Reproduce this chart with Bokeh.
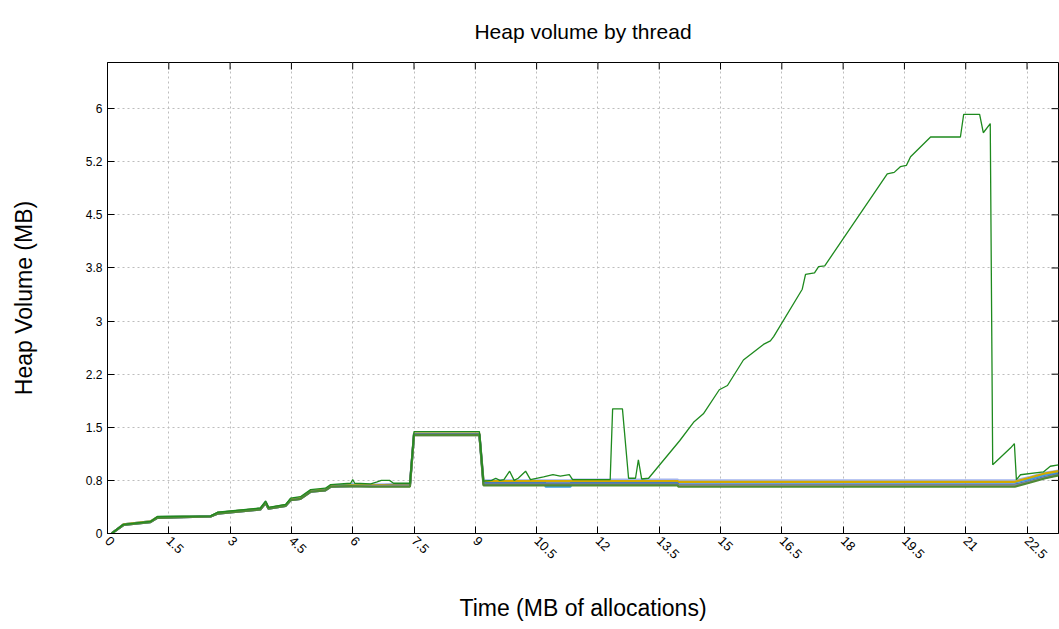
import math
from bokeh.plotting import figure
from bokeh.models import Range1d, FixedTicker
from bokeh.embed import file_html
from bokeh.resources import INLINE

# ---- data ----
X_TICKS = [0, 1.5, 3, 4.5, 6, 7.5, 9, 10.5, 12, 13.5, 15, 16.5, 18, 19.5, 21, 22.5]
X_LABELS = ["0", "1.5", "3", "4.5", "6", "7.5", "9", "10.5", "12", "13.5", "15",
            "16.5", "18", "19.5", "21", "22.5"]
Y_TICKS = [0, 0.75, 1.5, 2.25, 3, 3.75, 4.5, 5.25, 6]
Y_LABELS = ["0", "0.8", "1.5", "2.2", "3", "3.8", "4.5", "5.2", "6"]
X_MAX = 23.27
Y_MAX = 6.652
TITLE = "Heap volume by thread"

X_BG = [0.10, 0.39, 1.05, 1.22, 2.52, 2.69, 3.74, 3.87, 3.94, 4.36, 4.48, 4.72, 4.97,
        5.33, 5.46, 5.95, 6.44, 7.40, 7.50, 9.10, 9.20, 10.70, 10.72, 11.33, 11.35,
        13.95, 13.97, 22.20, 22.58, 22.95, 23.27]

thread_lavender = [0.00, 0.13, 0.17, 0.23, 0.245, 0.29, 0.35, 0.45, 0.36, 0.40, 0.48, 0.50, 0.60,
                   0.62, 0.67, 0.69, 0.69, 0.70, 1.41, 1.41, 0.75, 0.75, 0.75, 0.75, 0.76,
                   0.76, 0.75, 0.75, 0.80, 0.86, 0.89]
thread_sky = [0.00, 0.13, 0.17, 0.23, 0.24, 0.29, 0.35, 0.44, 0.36, 0.40, 0.48, 0.50, 0.60,
              0.62, 0.67, 0.69, 0.68, 0.69, 1.40, 1.40, 0.73, 0.73, 0.66, 0.66, 0.73,
              0.73, 0.72, 0.72, 0.77, 0.83, 0.86]
thread_gold = [0.00, 0.13, 0.17, 0.23, 0.24, 0.29, 0.35, 0.44, 0.36, 0.40, 0.48, 0.50, 0.60,
               0.62, 0.67, 0.68, 0.68, 0.69, 1.41, 1.41, 0.74, 0.74, 0.74, 0.74, 0.74,
               0.74, 0.73, 0.73, 0.79, 0.85, 0.88]
thread_steel = [0.00, 0.12, 0.16, 0.22, 0.24, 0.28, 0.34, 0.43, 0.35, 0.39, 0.47, 0.49, 0.59,
                0.61, 0.66, 0.67, 0.67, 0.68, 1.40, 1.40, 0.71, 0.71, 0.71, 0.71, 0.71,
                0.71, 0.69, 0.69, 0.74, 0.80, 0.84]
thread_gray = [0.00, 0.12, 0.16, 0.22, 0.24, 0.28, 0.34, 0.43, 0.35, 0.39, 0.47, 0.49, 0.59,
               0.61, 0.66, 0.67, 0.67, 0.67, 1.39, 1.39, 0.69, 0.69, 0.69, 0.69, 0.69,
               0.69, 0.68, 0.68, 0.73, 0.79, 0.83]
thread_olive = [0.00, 0.12, 0.16, 0.22, 0.24, 0.28, 0.34, 0.43, 0.35, 0.39, 0.47, 0.49, 0.59,
                0.61, 0.66, 0.67, 0.66, 0.66, 1.39, 1.39, 0.68, 0.68, 0.68, 0.68, 0.68,
                0.68, 0.66, 0.66, 0.72, 0.78, 0.82]

MAIN_X = [0.10, 0.39, 1.05, 1.22, 2.52, 2.69, 3.74, 3.87, 3.94, 4.36, 4.48, 4.72, 4.97,
          5.33, 5.46, 5.95, 6.00, 6.05, 6.44, 6.60, 6.70, 6.90, 7.00, 7.40, 7.50, 9.10,
          9.20, 9.40, 9.50, 9.60, 9.70, 9.84, 9.95, 10.05, 10.23, 10.35, 10.67, 10.90,
          11.08, 11.30, 11.38, 12.30, 12.36, 12.60, 12.75, 12.92, 12.99, 13.07, 13.24,
          14.00, 14.34, 14.58, 14.97, 15.17, 15.56, 16.05, 16.22, 16.30, 17.00, 17.08,
          17.30, 17.40, 17.55, 19.08, 19.25, 19.40, 19.55, 19.65, 20.14, 20.87, 20.95,
          21.34, 21.43, 21.60, 21.66, 22.10, 22.19, 22.24, 22.34, 22.90, 23.07, 23.27]
MAIN_Y = [0.00, 0.13, 0.17, 0.24, 0.25, 0.30, 0.36, 0.46, 0.37, 0.41, 0.50, 0.52, 0.62,
          0.64, 0.69, 0.71, 0.76, 0.71, 0.70, 0.73, 0.75, 0.75, 0.71, 0.71, 1.44, 1.44,
          0.74, 0.75, 0.78, 0.75, 0.76, 0.88, 0.75, 0.78, 0.88, 0.76, 0.80, 0.83,
          0.81, 0.83, 0.76, 0.76, 1.76, 1.76, 0.78, 0.78, 1.04, 0.77, 0.78,
          1.31, 1.57, 1.69, 2.03, 2.09, 2.45, 2.67, 2.72, 2.78, 3.45, 3.66,
          3.68, 3.77, 3.78, 5.08, 5.10, 5.18, 5.20, 5.32, 5.60, 5.60, 5.92,
          5.92, 5.66, 5.79, 0.97, 1.21, 1.27, 0.76, 0.83, 0.87, 0.95, 0.97]

BG_THREADS = [
    (thread_lavender, "#a3b4ee"),
    (thread_sky, "#3a9ee6"),
    (thread_gold, "#d2aa00"),
    (thread_steel, "#3d6ebf"),
    (thread_gray, "#8a8a8a"),
    (thread_olive, "#4f8a35"),
]

FONT = "Liberation Sans"

p = figure(width=1059, height=629, output_backend="svg", toolbar_location=None,
           x_range=Range1d(0, X_MAX), y_range=Range1d(0, Y_MAX),
           min_border_left=107, min_border_right=1, min_border_top=62, min_border_bottom=96)

p.title.text = TITLE
p.title.align = "center"
p.title.text_font = FONT
p.title.text_font_size = "21px"
p.title.text_font_style = "normal"
p.title.text_color = "#000000"
p.title.standoff = 36
p.title.vertical_align = "top"

for ys, col in BG_THREADS:
    p.line(X_BG, ys, line_color=col, line_width=2.2)
p.line(MAIN_X, MAIN_Y, line_color="#1e8a1e", line_width=1.3)

# mirrored inward ticks on the right and top frame edges
p.ray(x=[X_MAX] * len(Y_TICKS), y=Y_TICKS, length=7, length_units="screen",
      angle=math.pi, line_color="#000000", line_width=1)
p.ray(x=X_TICKS, y=[Y_MAX] * len(X_TICKS), length=7, length_units="screen",
      angle=-math.pi / 2, line_color="#000000", line_width=1)

p.outline_line_color = "#000000"
p.outline_line_width = 1

p.xaxis.ticker = FixedTicker(ticks=X_TICKS)
p.xaxis.major_label_overrides = {t: l for t, l in zip(X_TICKS, X_LABELS)}
p.yaxis.ticker = FixedTicker(ticks=Y_TICKS)
p.yaxis.major_label_overrides = {t: l for t, l in zip(Y_TICKS, Y_LABELS)}

for ax in (p.xaxis[0], p.yaxis[0]):
    ax.major_tick_in = 7
    ax.major_tick_out = 0
    ax.minor_tick_in = 0
    ax.minor_tick_out = 0
    ax.axis_line_color = "#000000"
    ax.major_tick_line_color = "#000000"
    ax.major_label_text_font = FONT
    ax.major_label_text_color = "#000000"
    ax.axis_label_text_font = FONT
    ax.axis_label_text_font_size = "23px"
    ax.axis_label_text_font_style = "normal"
    ax.axis_label_text_color = "#000000"

p.xaxis.major_label_text_font_size = "13px"
p.yaxis.major_label_text_font_size = "12px"
p.xaxis.axis_label = "Time (MB of allocations)"
p.yaxis.axis_label = "Heap Volume (MB)"
p.xaxis.major_label_orientation = -math.pi / 4
p.xaxis.axis_label_standoff = 29
p.yaxis.axis_label_standoff = 46

p.xgrid.ticker = FixedTicker(ticks=X_TICKS)
p.ygrid.ticker = FixedTicker(ticks=Y_TICKS)
p.grid.grid_line_color = "#bdbdbd"
p.grid.grid_line_dash = "2 3"
p.grid.grid_line_width = 1

open("out.html", "w").write(file_html(p, INLINE))
